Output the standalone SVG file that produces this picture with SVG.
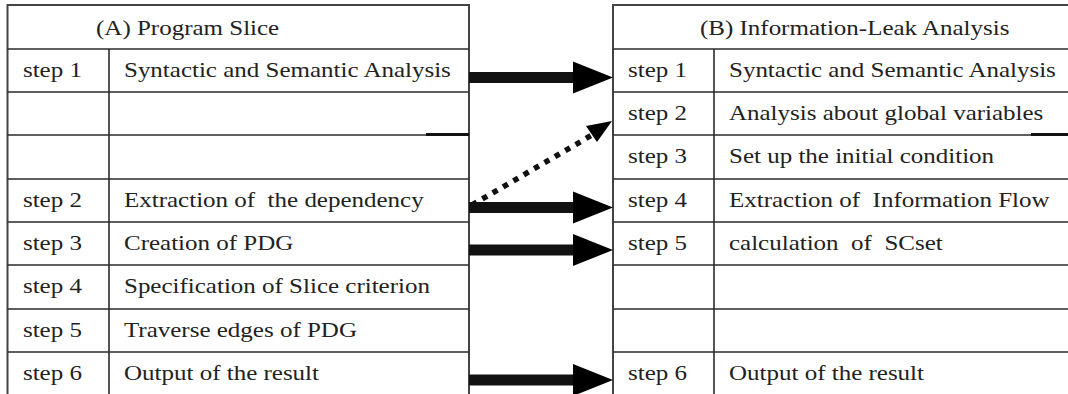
<svg xmlns="http://www.w3.org/2000/svg" width="1068" height="394" viewBox="0 0 1068 394">
<style>
.grid{stroke:#2b2b2b;stroke-width:1.6;fill:none}
.outer{stroke:#444;stroke-width:2;fill:none}
.stray{stroke:#111;stroke-width:3}
.t{font-family:"Liberation Serif","Times New Roman",serif;font-size:21px;fill:#222;white-space:pre}
.shaft{fill:#111}
.head{fill:#000}
</style>
<rect width="1068" height="394" fill="#fff"/>
<g id="tableA">
<rect class="outer" x="7.5" y="5" width="461.5" height="392"/>
<path class="grid" d="M7.5 49H469M7.5 92H469M7.5 135H469M7.5 179H469M7.5 222H469M7.5 265H469M7.5 309H469M7.5 352H469M109 49V397"/>
<line class="stray" x1="426" y1="134.5" x2="469" y2="134.5"/>
<g transform="scale(1.19 1)">
<text class="t" x="80.7" y="35">(A) Program Slice</text>
<text class="t" x="19.3" y="77">step 1</text><text class="t" x="104.2" y="77">Syntactic and Semantic Analysis</text>
<text class="t" x="19.3" y="207">step 2</text><text class="t" x="104.2" y="207" xml:space="preserve">Extraction of  the dependency</text>
<text class="t" x="19.3" y="250">step 3</text><text class="t" x="104.2" y="250">Creation of PDG</text>
<text class="t" x="19.3" y="293">step 4</text><text class="t" x="104.2" y="293">Specification of Slice criterion</text>
<text class="t" x="19.3" y="337">step 5</text><text class="t" x="104.2" y="337">Traverse edges of PDG</text>
<text class="t" x="19.3" y="380">step 6</text><text class="t" x="104.2" y="380">Output of the result</text>
</g>
</g>
<g id="tableB">
<rect class="outer" x="613" y="5" width="460" height="392"/>
<path class="grid" d="M613 49H1070M613 92H1070M613 135H1070M613 179H1070M613 222H1070M613 265H1070M613 309H1070M613 352H1070M714 49V397"/>
<line class="stray" x1="1031" y1="134.5" x2="1068" y2="134.5"/>
<g transform="scale(1.19 1)">
<text class="t" x="588.2" y="35">(B) Information-Leak Analysis</text>
<text class="t" x="527.7" y="77">step 1</text><text class="t" x="612.6" y="77">Syntactic and Semantic Analysis</text>
<text class="t" x="527.7" y="120">step 2</text><text class="t" x="612.6" y="120">Analysis about global variables</text>
<text class="t" x="527.7" y="163">step 3</text><text class="t" x="612.6" y="163">Set up the initial condition</text>
<text class="t" x="527.7" y="207">step 4</text><text class="t" x="612.6" y="207" xml:space="preserve">Extraction of  Information Flow</text>
<text class="t" x="527.7" y="250">step 5</text><text class="t" x="612.6" y="250" xml:space="preserve">calculation  of  SCset</text>
<text class="t" x="527.7" y="380">step 6</text><text class="t" x="612.6" y="380">Output of the result</text>
</g>
</g>
<g id="connectors">
<rect class="shaft" x="469" y="72" width="105" height="11"/><polygon class="head" points="573,61.5 613,77.5 573,93.5"/>
<rect class="shaft" x="469" y="202" width="105" height="11"/><polygon class="head" points="573,191.5 613,207.5 573,223.5"/>
<rect class="shaft" x="469" y="244.5" width="105" height="11"/><polygon class="head" points="573,234 613,250 573,266"/>
<rect class="shaft" x="469" y="374.5" width="105" height="11"/><polygon class="head" points="573,364 613,380 573,396"/>
<line x1="472" y1="205" x2="592" y2="135" stroke="#111" stroke-width="5.5" stroke-dasharray="5.5 6.5"/>
<polygon class="head" points="612,121 586,126 597,142"/>
</g>
</svg>
